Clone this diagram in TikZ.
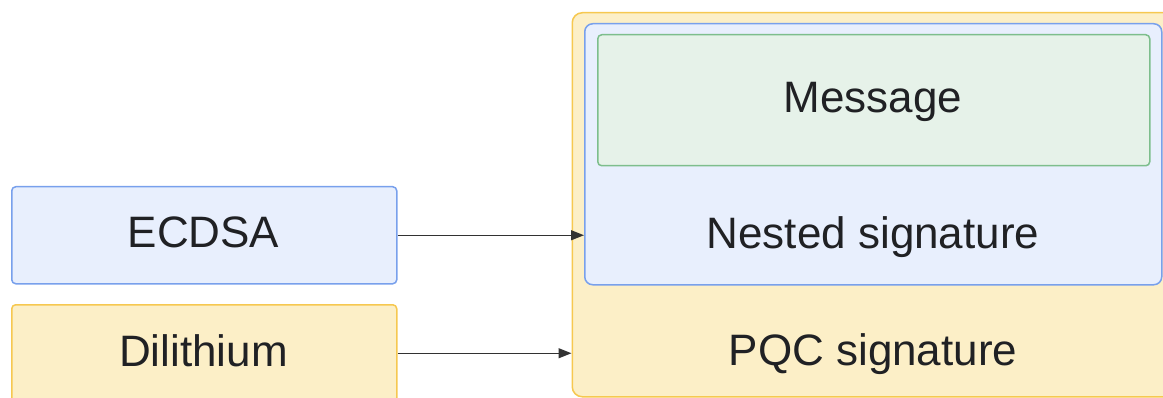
\documentclass[tikz,border=0pt]{standalone}
\usepackage{fontspec}
\setmainfont{Liberation Sans}
\usetikzlibrary{arrows.meta,positioning}
\definecolor{ylwfill}{RGB}{252,239,199}
\definecolor{ylwline}{RGB}{246,200,80}
\definecolor{blufill}{RGB}{232,239,253}
\definecolor{bluline}{RGB}{120,160,236}
\definecolor{grnfill}{RGB}{230,242,233}
\definecolor{grnline}{RGB}{125,190,140}
\definecolor{txt}{RGB}{32,33,36}
\definecolor{arr}{RGB}{50,50,50}
\tikzset{
  box/.style={draw, line width=1.5pt, inner sep=0pt, anchor=north west},
  lbl/.style={anchor=base, inner sep=0pt, text=txt, font=\fontsize{44}{50}\selectfont},
  conn/.style={draw=arr, line width=1.4pt, -{Triangle[length=13pt,width=10pt]}}
}
\begin{document}
\begin{tikzpicture}[x=1pt,y=1pt]
\useasboundingbox (0,0) rectangle (1163,397);
\clip (0,0) rectangle (1163,397);
% containers (y measured from the bottom: y = 397 - pixel)
\node[box, draw=ylwline, fill=ylwfill, rounded corners=10pt,
      minimum width=620pt, minimum height=384pt] (pqc) at (571.5,385) {};
\node[box, draw=bluline, fill=blufill, rounded corners=8pt,
      minimum width=577pt, minimum height=261pt] (nested) at (584,374) {};
\node[box, draw=grnline, fill=grnfill, rounded corners=4pt,
      minimum width=552pt, minimum height=131pt] (msg) at (597,363) {};
% sources
\node[box, draw=bluline, fill=blufill, rounded corners=4pt,
      minimum width=385pt, minimum height=97pt] (ecdsa) at (11,211) {};
\node[box, draw=ylwline, fill=ylwfill, rounded corners=4pt,
      minimum width=385pt, minimum height=97pt] (dil) at (11,93) {};
% labels
\node[lbl] (msgl) at (873,284) {Message};
\node[lbl] (nestl) at (873,149) {Nested signature};
\node[lbl] (pqcl) at (873,32) {PQC signature};
\node[lbl] (ecdsal) at (203.5,149.5) {ECDSA};
\node[lbl] (dill) at (203.5,31) {Dilithium};
% connectors
\draw[conn] (ecdsa.east) -- (ecdsa.east -| nested.west);
\draw[conn] (dil.east) -- (dil.east -| pqc.west);
\end{tikzpicture}
\end{document}
